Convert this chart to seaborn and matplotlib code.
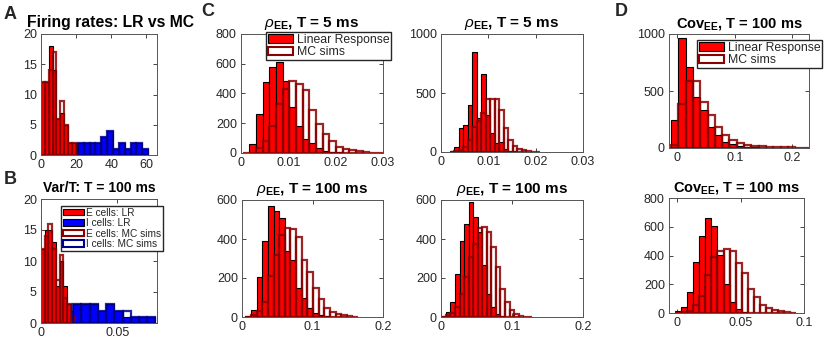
#importing the required libraries
import numpy as np
import pandas as pd
import seaborn as sns
import matplotlib.pyplot as plt
from matplotlib.patches import Patch
from matplotlib.ticker import FormatStrFormatter

sns.set_style('white')
plt.rcParams['font.family'] = ['Liberation Sans', 'DejaVu Sans']
plt.rcParams['mathtext.fontset'] = 'custom'
plt.rcParams['mathtext.rm'] = 'Liberation Sans'
plt.rcParams['mathtext.it'] = 'Liberation Sans:italic'
plt.rcParams['mathtext.bf'] = 'Liberation Sans:bold'

# ---- data: histogram counts (bin start, bin width, counts) ----
# A: firing rates
a_e_start, a_e_width = 0.0, 2.2
a_e_lr = [12, 12, 18, 14, 6, 7, 5, 2, 2, 2]
a_e_mc = [12, 12, 14, 17, 6, 9, 5, 2, 2, 0]
a_i_start, a_i_width = 21.0, 3.33
a_i_lr = [2, 2, 2, 2, 3, 4, 1, 2, 1, 2, 2, 1]
a_i_mc = [2, 2, 2, 2, 3, 4, 1, 2, 1, 2, 2, 1]

# B: Var/T
b_e_start, b_e_width = 0.0, 0.00245
b_e_lr = [12, 15, 15, 13, 6, 10, 6, 3, 2]
b_e_mc = [12, 14, 16, 12, 7, 11, 4, 3, 1]
b_i_start, b_i_width = 0.021, 0.0054
b_i_lr = [3, 3, 3, 2, 3, 2, 1, 1, 1, 1]
b_i_mc = [3, 3, 3, 2, 3, 2, 2, 1, 1, 1]

# C: rho_EE
c1_start, c1_width = 0.00035, 0.00141
c1_lr = [3, 60, 262, 477, 580, 610, 482, 307, 181, 92, 69, 31, 16, 9, 5, 3, 2, 1, 0, 0, 0]
c1_mc = [0, 2, 31, 78, 184, 329, 428, 486, 466, 424, 289, 193, 128, 78, 43, 29, 22, 13, 7, 3, 1]

c2_start, c2_width = 0.0019, 0.00095
c2_lr = [10, 40, 205, 227, 398, 847, 290, 662, 312, 160, 80, 85, 28, 10, 5, 3, 2, 1, 0, 0]
c2_mc = [0, 5, 15, 40, 100, 213, 260, 330, 450, 446, 446, 355, 200, 105, 50, 28, 14, 8, 3, 1]

c3_start, c3_width = 0.0047, 0.008
c3_lr = [5, 35, 205, 390, 570, 545, 510, 340, 290, 150, 95, 45, 20, 8, 4, 2, 1, 0, 0, 0]
c3_mc = [2, 10, 30, 75, 210, 320, 420, 455, 450, 410, 290, 230, 150, 90, 45, 28, 15, 8, 4, 2]

c4_start, c4_width = 0.0005, 0.0064
c4_lr = [5, 26, 77, 223, 389, 477, 591, 514, 437, 266, 117, 51, 17, 6, 2, 1, 0, 0, 0, 0]
c4_mc = [0, 8, 20, 51, 120, 206, 309, 372, 454, 460, 437, 357, 257, 146, 77, 34, 14, 5, 2, 0]

# D: Cov_EE
d1_start, d1_width = -0.011, 0.0127
d1_lr = [250, 965, 709, 450, 330, 185, 118, 55, 32, 18, 9, 5, 3, 2, 1, 1, 1, 0, 0, 0]
d1_mc = [24, 382, 588, 588, 400, 288, 180, 118, 68, 44, 29, 18, 14, 10, 8, 6, 5, 4, 2, 1]

d2_start, d2_width = -0.002, 0.0048
d2_lr = [12, 42, 144, 352, 533, 661, 603, 406, 200, 80, 25, 8, 2, 0, 0, 0, 0, 0, 0, 0]
d2_mc = [0, 5, 12, 58, 116, 267, 390, 434, 448, 434, 348, 278, 167, 111, 58, 35, 19, 12, 7, 3]

RED, DRED = '#ff0000', '#8b0000'
BLUE, DBLUE = '#0000ff', '#00008b'
AXC = '#262626'

W, H = 830, 346
fig = plt.figure(figsize=(W / 100, H / 100), dpi=100)


def new_ax(l, r, t, b):
    return fig.add_axes([l / W, 1 - b / H, (r - l) / W, (b - t) / H])


def hist(ax, start, width, counts, face, edge, lw, fill=True):
    edges = [start + width * i for i in range(len(counts) + 1)]
    centers = [e + width / 2 for e in edges[:-1]]
    df = pd.DataFrame({'x': centers, 'n': counts})
    if fill:
        sns.histplot(data=df, x='x', weights='n', bins=edges, ax=ax,
                     color=face, edgecolor=edge, linewidth=lw, alpha=1)
    else:
        sns.histplot(data=df, x='x', weights='n', bins=edges, ax=ax,
                     fill=False, color=edge, linewidth=lw, alpha=0.85)


def style(ax, xlim, ylim, xticks, yticks, title, tsize, tx=0.5):
    ax.set_xlim(*xlim)
    ax.set_ylim(*ylim)
    ax.set_xticks(xticks)
    ax.set_yticks(yticks)
    ax.xaxis.set_major_formatter(FormatStrFormatter('%g'))
    ax.set_xlabel('')
    ax.set_ylabel('')
    ax.tick_params(direction='in', top=True, right=True, bottom=True, left=True,
                   length=3, width=0.6, colors=AXC, labelsize=9, pad=3)
    for s in ax.spines.values():
        s.set_color('#555555')
        s.set_linewidth(0.7)
    ax.set_title(title, fontweight='bold', fontsize=tsize, pad=5, color='black', x=tx)


def legend(ax, labels, handles, x, y, fs):
    ax.legend(handles=handles, labels=labels, loc='upper right',
              bbox_to_anchor=(x / W, 1 - y / H), bbox_transform=fig.transFigure,
              fancybox=False, framealpha=1, edgecolor=AXC, fontsize=fs,
              borderpad=0.15, handlelength=2.1, handleheight=0.65,
              handletextpad=0.25, labelspacing=0.05, borderaxespad=0)


h_lr = Patch(facecolor=RED, edgecolor='black', linewidth=0.8)
h_mc = Patch(facecolor='white', edgecolor=DRED, linewidth=1.5)
h_ilr = Patch(facecolor=BLUE, edgecolor='black', linewidth=0.8)
h_imc = Patch(facecolor='white', edgecolor=DBLUE, linewidth=1.5)

# A
ax = new_ax(41, 157, 34, 155)
hist(ax, a_e_start, a_e_width, a_e_lr, RED, 'black', 0.8)
hist(ax, a_i_start, a_i_width, a_i_lr, BLUE, 'black', 0.8)
hist(ax, a_e_start, a_e_width, a_e_mc, None, DRED, 1.6, fill=False)
hist(ax, a_i_start, a_i_width, a_i_mc, None, DBLUE, 1.6, fill=False)
style(ax, (0, 66), (0, 20), [0, 20, 40, 60], [0, 5, 10, 15, 20],
      'Firing rates: LR vs MC', 11.3, tx=0.6)

# B
ax = new_ax(41, 157, 199, 323)
hist(ax, b_e_start, b_e_width, b_e_lr, RED, 'black', 0.8)
hist(ax, b_i_start, b_i_width, b_i_lr, BLUE, 'black', 0.8)
hist(ax, b_e_start, b_e_width, b_e_mc, None, DRED, 1.6, fill=False)
hist(ax, b_i_start, b_i_width, b_i_mc, None, DBLUE, 1.6, fill=False)
style(ax, (0, 0.076), (0, 20), [0, 0.05], [0, 5, 10, 15, 20], 'Var/T: T = 100 ms', 10)
legend(ax, ['E cells: LR', 'I cells: LR', 'E cells: MC sims', 'I cells: MC sims'],
       [h_lr, h_ilr, h_mc, h_imc], 163, 206, 7.3)

rho5 = r'$\rho_{\mathbf{EE}}$, T = 5 ms'
rho100 = r'$\rho_{\mathbf{EE}}$, T = 100 ms'
cov100 = r'Cov$_{\mathbf{EE}}$, T = 100 ms'

# C
ax = new_ax(241, 383, 34, 153)
hist(ax, c1_start, c1_width, c1_lr, RED, 'black', 0.8)
hist(ax, c1_start, c1_width, c1_mc, None, DRED, 1.6, fill=False)
style(ax, (0, 0.03), (0, 800), [0, 0.01, 0.02, 0.03], [0, 200, 400, 600, 800], rho5, 11)
legend(ax, ['Linear Response', 'MC sims'], [h_lr, h_mc], 391, 32, 8.8)

ax = new_ax(441, 583, 34, 152)
hist(ax, c2_start, c2_width, c2_lr, RED, 'black', 0.8)
hist(ax, c2_start, c2_width, c2_mc, None, DRED, 1.6, fill=False)
style(ax, (0, 0.03), (0, 1000), [0, 0.01, 0.02, 0.03], [0, 500, 1000], rho5, 11)

ax = new_ax(242, 383, 200, 317)
hist(ax, c3_start, c3_width, c3_lr, RED, 'black', 0.8)
hist(ax, c3_start, c3_width, c3_mc, None, DRED, 1.6, fill=False)
style(ax, (0, 0.2), (0, 600), [0, 0.1, 0.2], [0, 200, 400, 600], rho100, 11)

ax = new_ax(441, 583, 200, 317)
hist(ax, c4_start, c4_width, c4_lr, RED, 'black', 0.8)
hist(ax, c4_start, c4_width, c4_mc, None, DRED, 1.6, fill=False)
style(ax, (0, 0.2), (0, 600), [0, 0.1, 0.2], [0, 200, 400, 600], rho100, 11)

# D
ax = new_ax(669, 809, 34, 148)
hist(ax, d1_start, d1_width, d1_lr, RED, 'black', 0.8)
hist(ax, d1_start, d1_width, d1_mc, None, DRED, 1.6, fill=False)
style(ax, (-0.0145, 0.229), (0, 1000), [0, 0.1, 0.2], [0, 500, 1000], cov100, 10.5)
legend(ax, ['Linear Response', 'MC sims'], [h_lr, h_mc], 822, 40, 8.8)

ax = new_ax(669, 804, 198, 313)
hist(ax, d2_start, d2_width, d2_lr, RED, 'black', 0.8)
hist(ax, d2_start, d2_width, d2_mc, None, DRED, 1.6, fill=False)
style(ax, (-0.0067, 0.1), (0, 800), [0, 0.05, 0.1], [0, 200, 400, 600, 800], cov100, 10.5)

# panel letters
for lab, x, y in [('A', 4, 6), ('B', 4, 171), ('C', 201, 3), ('D', 615, 3)]:
    fig.text(x / W, 1 - y / H, lab, fontsize=13, fontweight='bold', va='top', ha='left')

fig.savefig('out.png', dpi=100)
